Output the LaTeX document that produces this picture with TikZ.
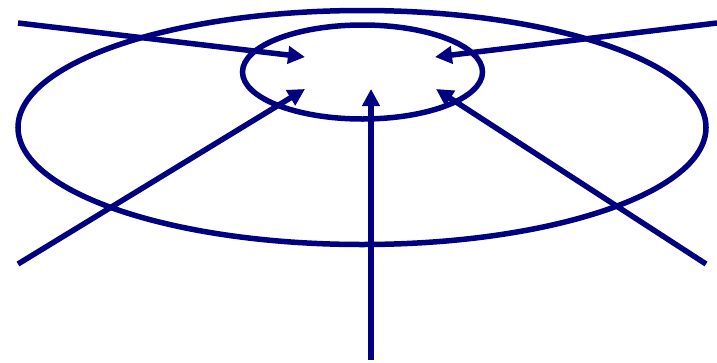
\documentclass[tikz,border=0pt]{standalone}
\usepackage{tikz}
\usetikzlibrary{arrows.meta}
\definecolor{navyblue}{rgb}{0,0,0.5}
\tikzset{
  ring/.style={
    draw=navyblue,
    line width=5.5pt
  },
  arrow/.style={
    -{Triangle[length=17pt,width=17pt]},
    line width=5.5pt,
    navyblue
  }
}
\begin{document}
\begin{tikzpicture}[x=1pt,y=-1pt]
\useasboundingbox (0,0) rectangle (717,362);
% rings
\draw[ring] (362,127.5) ellipse [x radius=344,y radius=117];
\draw[ring] (362.5,72) ellipse [x radius=120,y radius=47];
% ends
\coordinate (nw) at (18,23);
\coordinate (ne) at (717,23);
\coordinate (sw) at (18,264);
\coordinate (se) at (706,264);
\coordinate (s) at (371,360);
\coordinate (tnw) at (305,57);
\coordinate (tne) at (435,57);
\coordinate (tsw) at (305,89);
\coordinate (tse) at (436,89);
\coordinate (ts) at (371,89);
\draw[arrow] (nw) -- (tnw);
\draw[arrow] (ne) -- (tne);
\draw[arrow] (sw) -- (tsw);
\draw[arrow] (se) -- (tse);
\draw[arrow] (s) -- (ts);
\end{tikzpicture}
\end{document}
